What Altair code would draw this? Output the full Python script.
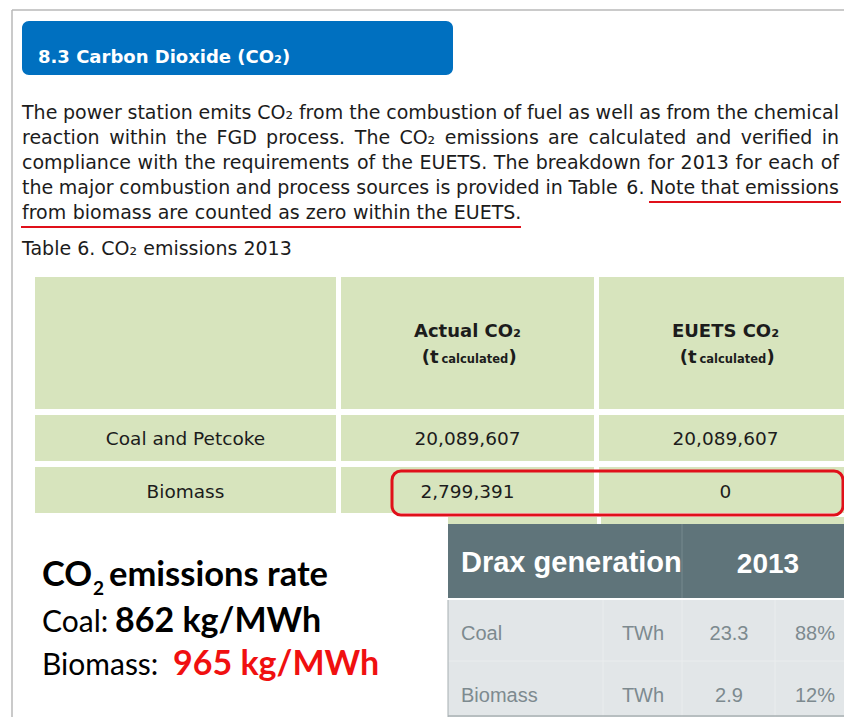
import altair as alt
import pandas as pd

# ------------------------------------------------------------------ data
section_title = "8.3 Carbon Dioxide (CO₂)"
paragraph_lines = [
    "The power station emits CO₂ from the combustion of fuel as well as from the chemical",
    "reaction within the FGD process. The CO₂ emissions are calculated and verified in",
    "compliance with the requirements of the EUETS. The breakdown for 2013 for each of",
    "the major combustion and process sources is provided in Table 6. Note that emissions",
    "from biomass are counted as zero within the EUETS.",
]
table_caption = "Table 6. CO₂ emissions 2013"
t6_headers = ["Actual CO₂", "EUETS CO₂"]
t6_unit = ["(t", "calculated", ")"]
t6_sources = ["Coal and Petcoke", "Biomass"]
t6_actual = [20089607, 2799391]
t6_euets = [20089607, 0]

rate_title = ["CO", "2", "emissions rate"]
rate_fuels = ["Coal:", "Biomass:"]
rate_values = [862, 965]
rate_unit = "kg/MWh"

gen_title = ["Drax generation", "2013"]
gen_fuels = ["Coal", "Biomass"]
gen_units = ["TWh", "TWh"]
gen_twh = [23.3, 2.9]
gen_share = [88, 12]

# ------------------------------------------------------------------ layout
W, H = 852, 725          # reference picture size
OFF = 8                  # page margin
xs = alt.Scale(domain=[OFF, W - OFF], nice=False, zero=False)
ys = alt.Scale(domain=[OFF, H - OFF], nice=False, zero=False, reverse=True)

ARIAL_LIKE = "DejaVu Sans"
ARIAL = "Liberation Sans"
CALIBRI_LIKE = "Lato"

BLUE = "#0070C0"
GREEN = "#D7E4BD"
RED = "#E0101A"
SLATE = "#5F747A"
BODY = "#E2E6E8"
BODY_TXT = "#7D8A8F"
INK = "#1C1C1C"

T6_COLS = [(35, 336), (341, 594), (599, 852)]
T6_ROWS = [(277, 409), (415, 461), (467, 513)]
T6_ROW_BASE = [445, 498]

PARA_X0, PARA_X1 = 22, 839
PARA_BASE0, PARA_STEP = 119, 25
PARA_SIZE = 19

# DejaVu Sans advance widths (units per 2048 em) used for justification
DJV = {" ": 651, ".": 651, ",": 651, "₂": 842,
       "a": 1255, "b": 1300, "c": 1126, "d": 1300, "e": 1260, "f": 721, "g": 1300,
       "h": 1298, "i": 569, "j": 569, "k": 1186, "l": 569, "m": 1995, "n": 1298,
       "o": 1253, "p": 1300, "q": 1300, "r": 842, "s": 1067, "t": 803, "u": 1298,
       "v": 1212, "w": 1675, "x": 1212, "y": 1212, "z": 1071,
       "C": 1430, "D": 1577, "E": 1294, "F": 1178, "G": 1587, "N": 1532, "O": 1612,
       "S": 1300, "T": 1251, "U": 1499}


def text_w(s, size):
    return sum(DJV.get(ch, 1303) for ch in s) * size / 2048.0


def X(f):
    return alt.X(f"{f}:Q", scale=xs, axis=None)


def Y(f):
    return alt.Y(f"{f}:Q", scale=ys, axis=None)


def rect_layer(rows, **kw):
    df = pd.DataFrame(rows, columns=["x0", "x1", "y0", "y1", "fill"])
    return alt.Chart(df).mark_rect(clip=True, **kw).encode(
        x=X("x0"), x2="x1", y=Y("y0"), y2="y1",
        fill=alt.Fill("fill:N", scale=None),
    )


def rule_layer(rows, color, width):
    df = pd.DataFrame(rows, columns=["x0", "x1", "y0", "y1"])
    return alt.Chart(df).mark_rule(color=color, strokeWidth=width, clip=True).encode(
        x=X("x0"), x2="x1", y=Y("y0"), y2="y1"
    )


def text_layer(rows, text_type="N", fmt=None, **kw):
    df = pd.DataFrame(rows, columns=["x", "y", "t"])
    txt = alt.Text(f"t:{text_type}", format=fmt) if fmt else alt.Text(f"t:{text_type}")
    return alt.Chart(df).mark_text(baseline="alphabetic", **kw).encode(
        x=X("x"), y=Y("y"), text=txt
    )


layers = []

# outer frame of the screenshot
layers.append(rule_layer([(12, W, 10, 10), (12, 12, 10, H)], "#B8B8B8", 1.5))

# section header
layers.append(rect_layer([(22, 453, 21, 75, BLUE)], cornerRadius=7))
layers.append(text_layer([(38, 63, section_title)], font=ARIAL_LIKE, fontSize=18,
                         fontWeight="bold", color="white", align="left"))

# paragraph, justified word by word
word_rows = []
span = PARA_X1 - PARA_X0
for i, line in enumerate(paragraph_lines):
    base = PARA_BASE0 + i * PARA_STEP
    words = line.split(" ")
    widths = [text_w(w, PARA_SIZE) for w in words]
    if i == len(paragraph_lines) - 1:
        gap = text_w(" ", PARA_SIZE)
    else:
        gap = (span - sum(widths)) / (len(words) - 1)
    x = PARA_X0
    for w, wd in zip(words, widths):
        word_rows.append((x, base, w))
        x += wd + gap
layers.append(text_layer(word_rows, font=ARIAL_LIKE, fontSize=PARA_SIZE, color=INK,
                         align="left"))
layers.append(rule_layer([(649, 841, 202, 202), (21, 521, 227, 227)], RED, 2))

layers.append(text_layer([(PARA_X0, 255, table_caption)], font=ARIAL_LIKE,
                         fontSize=PARA_SIZE, color=INK, align="left"))

# table 6 cells
cells = [(c0, c1, r0, r1, GREEN) for (r0, r1) in T6_ROWS for (c0, c1) in T6_COLS]
cells.append((448, 597, 517, 525, GREEN))
cells.append((601, 852, 517, 525, GREEN))
layers.append(rect_layer(cells))

col_c = [(a + b) / 2 for a, b in T6_COLS]
layers.append(text_layer([(col_c[1], 337, t6_headers[0]), (col_c[2], 337, t6_headers[1])],
                         font=ARIAL_LIKE, fontSize=18, fontWeight="bold", color=INK,
                         align="center"))
unit_a, unit_b, unit_c = [], [], []
for c in col_c[1:]:
    unit_a.append((c - 29, 363, t6_unit[0]))
    unit_b.append((c - 26, 363, t6_unit[1]))
    unit_c.append((c + 41, 363, t6_unit[2]))
layers.append(text_layer(unit_a, font=ARIAL_LIKE, fontSize=18, fontWeight="bold",
                         color=INK, align="right"))
layers.append(text_layer(unit_b, font=ARIAL_LIKE, fontSize=11.5, fontWeight="bold",
                         color=INK, align="left"))
layers.append(text_layer(unit_c, font=ARIAL_LIKE, fontSize=18, fontWeight="bold",
                         color=INK, align="left"))

layers.append(text_layer([(col_c[0], T6_ROW_BASE[i], s) for i, s in enumerate(t6_sources)],
                         font=ARIAL_LIKE, fontSize=18.5, color=INK, align="center"))
num_rows = [(col_c[1], T6_ROW_BASE[i], v) for i, v in enumerate(t6_actual)] + \
           [(col_c[2], T6_ROW_BASE[i], v) for i, v in enumerate(t6_euets)]
layers.append(text_layer(num_rows, text_type="Q", fmt=",", font=ARIAL_LIKE, fontSize=18.5,
                         color=INK, align="center"))

# Drax generation table
GX0, GX1 = 448, 852
layers.append(rect_layer([(GX0, GX1, 524, 598, SLATE), (GX0, GX1, 600, 722, BODY)]))
layers.append(rule_layer([(682, 682, 524, 598)], "#76898E", 1))
layers.append(rule_layer([(603, 603, 600, 722), (682, 682, 600, 722), (775, 775, 600, 722),
                          (GX0, GX1, 661, 661)], "#EAEDEE", 1))
layers.append(rule_layer([(GX0, GX0, 600, 722)], "#A6AEB1", 1))
layers.append(rule_layer([(GX0, GX1, 716, 716)], "#A9B0B3", 1.5))
layers.append(text_layer([(461, 572, gen_title[0])], font=ARIAL, fontSize=29,
                         fontWeight="bold", color="white", align="left"))
layers.append(text_layer([(768, 573, gen_title[1])], font=ARIAL, fontSize=28,
                         fontWeight="bold", color="white", align="center"))
G_BASE = [640, 702]
layers.append(text_layer([(461, G_BASE[i], f) for i, f in enumerate(gen_fuels)],
                         font=ARIAL, fontSize=20, color=BODY_TXT, align="left"))
layers.append(text_layer([(643, G_BASE[i], u) for i, u in enumerate(gen_units)],
                         font=ARIAL, fontSize=20, color=BODY_TXT, align="center"))
layers.append(text_layer([(729, G_BASE[i], v) for i, v in enumerate(gen_twh)],
                         text_type="Q", fmt=".1f", font=ARIAL, fontSize=20,
                         color=BODY_TXT, align="center"))
layers.append(text_layer([(815, G_BASE[i], f"{s}%") for i, s in enumerate(gen_share)],
                         font=ARIAL, fontSize=20, color=BODY_TXT, align="center"))

# red highlight box around biomass row
box = pd.DataFrame([(392, 843, 471, 515)], columns=["x0", "x1", "y0", "y1"])
layers.append(alt.Chart(box).mark_rect(filled=False, stroke=RED, strokeWidth=3,
                                       cornerRadius=9).encode(
    x=X("x0"), x2="x1", y=Y("y0"), y2="y1"))

# emissions rate block
layers.append(text_layer([(42, 586, rate_title[0])], font=CALIBRI_LIKE, fontSize=34.5,
                         fontWeight="bold", color="black", align="left"))
layers.append(text_layer([(93, 595, rate_title[1])], font=CALIBRI_LIKE, fontSize=19,
                         fontWeight="bold", color="black", align="left"))
layers.append(text_layer([(109, 586, rate_title[2])], font=CALIBRI_LIKE, fontSize=34.5,
                         fontWeight="bold", color="black", align="left"))
R_BASE = [632, 675]
R_VAL_X = [115, 173]
layers.append(text_layer([(42, R_BASE[i], f) for i, f in enumerate(rate_fuels)],
                         font=CALIBRI_LIKE, fontSize=30, color="black", align="left"))
layers.append(text_layer([(R_VAL_X[0], R_BASE[0], f"{rate_values[0]} {rate_unit}")],
                         font=CALIBRI_LIKE, fontSize=34, fontWeight="bold",
                         color="black", align="left"))
layers.append(text_layer([(R_VAL_X[1], R_BASE[1], f"{rate_values[1]} {rate_unit}")],
                         font=CALIBRI_LIKE, fontSize=34, fontWeight="bold",
                         color="#F01010", align="left"))

chart = alt.layer(*layers).properties(
    width=W - 2 * OFF, height=H - 2 * OFF,
    autosize=alt.AutoSizeParams(type="none"),
    padding=0,
    background="white",
).configure_view(stroke=None)

chart.save("out.html", embed_options={"renderer": "svg", "actions": False})
